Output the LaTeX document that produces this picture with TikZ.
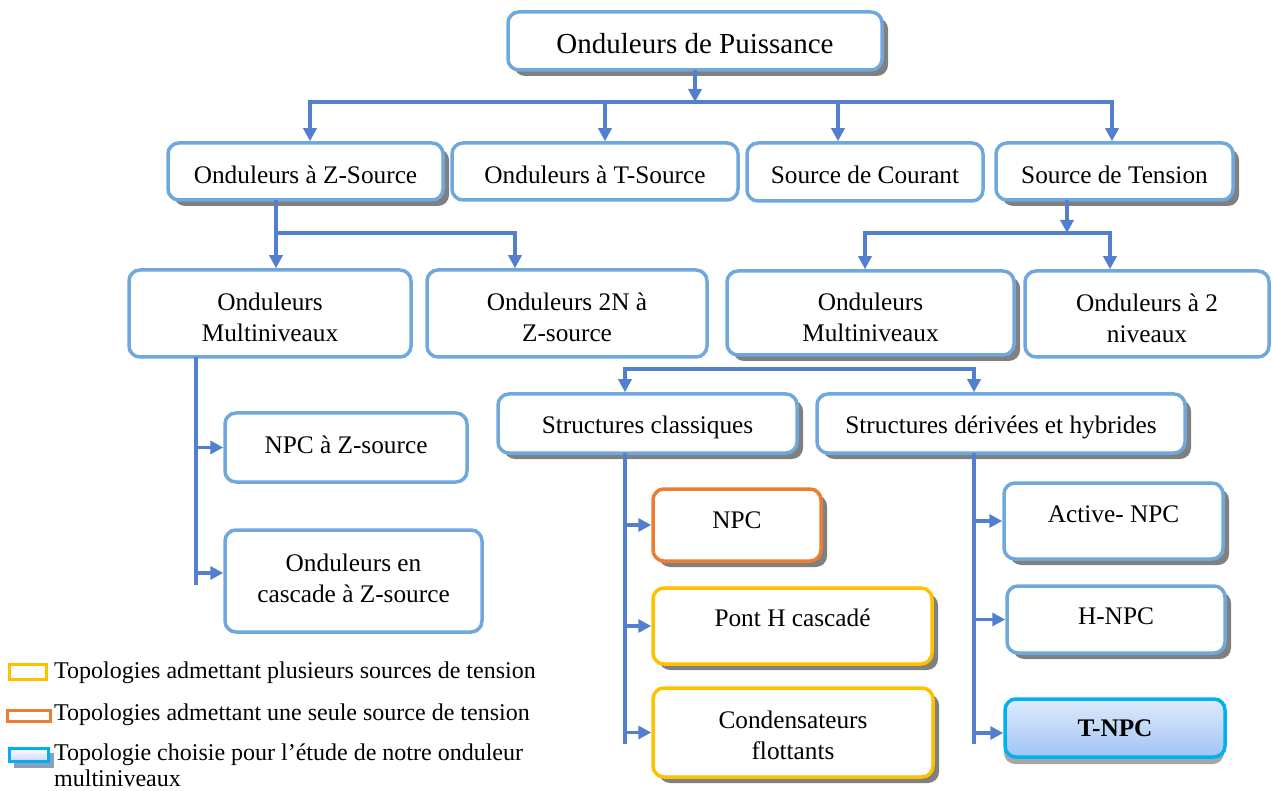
\documentclass[tikz,border=0pt]{standalone}
\usepackage{fontspec}
\setmainfont{Liberation Serif}
\usetikzlibrary{arrows.meta,shadows,calc}
\definecolor{boxblue}{RGB}{111,168,220}
\definecolor{connblue}{RGB}{82,128,206}
\definecolor{shadowgray}{RGB}{128,128,128}
\definecolor{orangeB}{RGB}{237,125,49}
\definecolor{yellowB}{RGB}{255,192,0}
\definecolor{cyanB}{RGB}{0,176,240}
\definecolor{tnTop}{RGB}{222,235,252}
\definecolor{tnBot}{RGB}{160,196,245}
\definecolor{legShadow}{RGB}{140,160,190}
\newcommand\fsA{\fontsize{25.3}{31}\selectfont}
\newcommand\fsT{\fontsize{29}{35}\selectfont}
\newcommand\fsL{\fontsize{24}{25.5}\selectfont}
\tikzset{
  bx/.style={draw=boxblue, line width=3.5pt, rounded corners=11pt, fill=white,
    inner sep=0pt},
  shd/.style={drop shadow={shadow xshift=6pt, shadow yshift=-6pt, fill=shadowgray, opacity=1}},
  conn/.style={draw=connblue, line width=3.5pt, line cap=rect},
  arr/.style={conn, -{Triangle[length=13pt,width=13pt]}},
  lbl/.style={font=\fsA, inner sep=0pt, align=center},
  txt/.style={label={[lbl,yshift=-4pt]center:{#1}}},
  txs/.style 2 args={label={[lbl,yshift=#2]center:{#1}}},
  legtxt/.style={font=\fsL, inner sep=0pt, anchor=west, align=left},
}
\begin{document}
\begin{tikzpicture}[x=1pt,y=-1pt]
\fill[white] (0,0) rectangle (1272,791);
\useasboundingbox (0,0) rectangle (1272,791);

% ---- boxes ----
\node[bx, shd, minimum width=374pt, minimum height=58pt,
  label={[lbl,font=\fsT,yshift=-3pt]center:Onduleurs de Puissance}] (top) at (695,41) {};

\node[bx, shd, minimum width=275pt, minimum height=57pt, txs={Onduleurs à Z-Source}{-3pt}] (zs) at (305.5,171.5) {};
\node[bx, minimum width=286pt, minimum height=57pt, txs={Onduleurs à T-Source}{-3pt}] (ts) at (595,171.5) {};
\node[bx, minimum width=236pt, minimum height=58pt, txs={Source de Courant}{-3pt}] (sc) at (865,172) {};
\node[bx, shd, minimum width=237pt, minimum height=57pt, txs={Source de Tension}{-3pt}] (st) at (1114.5,171.5) {};

\node[bx, minimum width=282pt, minimum height=87pt, txt={Onduleurs\\Multiniveaux}] (ml) at (270,313.5) {};
\node[bx, minimum width=280pt, minimum height=87pt, txt={Onduleurs 2N à\\Z-source}] (n2) at (567,313.5) {};
\node[bx, shd, minimum width=287pt, minimum height=84pt, txt={Onduleurs\\Multiniveaux}] (mr) at (870.5,313) {};
\node[bx, minimum width=244pt, minimum height=86pt, txt={Onduleurs à 2\\niveaux}] (nn) at (1147,314) {};

\node[bx, minimum width=242pt, minimum height=69pt, txs={NPC à Z-source}{3pt}] (npcz) at (346,447.5) {};
\node[bx, minimum width=257pt, minimum height=102pt, txs={Onduleurs en\\cascade à Z-source}{3pt}] (casc) at (353.5,581) {};

\node[bx, shd, minimum width=299pt, minimum height=59pt, txt={Structures classiques}] (cl) at (647.5,423.5) {};
\node[bx, shd, minimum width=368pt, minimum height=59pt, txt={Structures dérivées et hybrides}] (dr) at (1001,423.5) {};

\node[bx, shd, draw=orangeB, minimum width=168pt, minimum height=72pt, txs={NPC}{5pt}] (npc) at (737,525) {};
\node[bx, shd, draw=yellowB, minimum width=279pt, minimum height=76pt, txs={Pont H cascadé}{8pt}] (ph) at (792.5,626) {};
\node[bx, shd, draw=yellowB, minimum width=280pt, minimum height=89pt, txs={Condensateurs\\flottants}{-3pt}] (cf) at (793,732.5) {};

\node[bx, shd, minimum width=219pt, minimum height=76pt, txs={Active- NPC}{7pt}] (an) at (1113.5,521) {};
\node[bx, shd, minimum width=218pt, minimum height=67pt, txs={H-NPC}{3pt}] (hn) at (1116,619.5) {};
\node[bx, draw=cyanB, top color=tnTop, bottom color=tnBot,
  drop shadow={shadow xshift=-1pt, shadow yshift=-7pt, fill=black!35, opacity=1},
  minimum width=220pt, minimum height=58pt, txs={\bfseries T-NPC}{0pt}] (tn) at (1115,728) {};

% ---- connectors ----
\coordinate (btop) at (695,102);
\coordinate (bL) at (310,102);
\coordinate (b2) at (605,102);
\coordinate (b3) at (838,102);
\coordinate (bR) at (1112,102);
\draw[arr] (top.south) -- (btop);
\draw[conn] (bL) -- (bR);
\draw[arr] (bL) -- (bL |- zs.north);
\draw[arr] (b2) -- (b2 |- ts.north);
\draw[arr] (b3) -- (b3 |- sc.north);
\draw[arr] (bR) -- (bR |- st.north);

\coordinate (k1) at (276,233);
\coordinate (k2) at (515,233);
\draw[arr] (k1 |- zs.south) -- (k1 |- ml.north);
\draw[arr] (k1) -- (k2) -- (k2 |- n2.north);

\coordinate (t1) at (1067,233);
\coordinate (m1) at (865,233);
\coordinate (m2) at (1110,233);
\draw[arr] (t1 |- st.south) -- (t1);
\draw[conn] (m1) -- (m2);
\draw[arr] (m1) -- (m1 |- mr.north);
\draw[arr] (m2) -- (m2 |- nn.north);

\coordinate (ve) at (196,583);
\coordinate (va2) at (196,573);
\draw[conn] (ve |- ml.south) -- (ve);
\draw[arr] (ve |- npcz.west) -- (npcz.west);
\draw[arr] (va2) -- (va2 -| casc.west);

\coordinate (h1) at (625,369);
\coordinate (h2) at (974,369);
\draw[conn] (h1) -- (h2);
\draw[arr] (h1) -- (h1 |- cl.north);
\draw[arr] (h2) -- (h2 |- dr.north);

\coordinate (ce) at (625,742);
\draw[conn] (ce |- cl.south) -- (ce);
\draw[arr] (ce |- npc.west) -- (npc.west);
\draw[arr] (ce |- ph.west) -- (ph.west);
\draw[arr] (ce |- cf.west) -- (cf.west);

\coordinate (de) at (974,742);
\coordinate (da3) at (974,733);
\draw[conn] (de |- dr.south) -- (de);
\draw[arr] (de |- an.west) -- (an.west);
\draw[arr] (de |- hn.west) -- (hn.west);
\draw[arr] (da3) -- (da3 -| tn.west);

% ---- legend ----
\draw[yellowB, line width=3pt] (9,664) rectangle (46,679);
\node[legtxt] (l1) at (54,673) {Topologies admettant plusieurs sources de tension};
\draw[orangeB, line width=3pt] (7,710) rectangle (50,721);
\node[legtxt] (l2) at (54,715) {Topologies admettant une seule source de tension};
\fill[legShadow] (14,753) rectangle (54,768);
\draw[cyanB, line width=3pt, top color=white, bottom color=tnTop!80!blue!60] (9,748) rectangle (48,761);
\node[legtxt, anchor=north west] (l3) at (54,744) {Topologie choisie pour l’étude de notre onduleur\\multiniveaux};
\end{tikzpicture}
\end{document}
